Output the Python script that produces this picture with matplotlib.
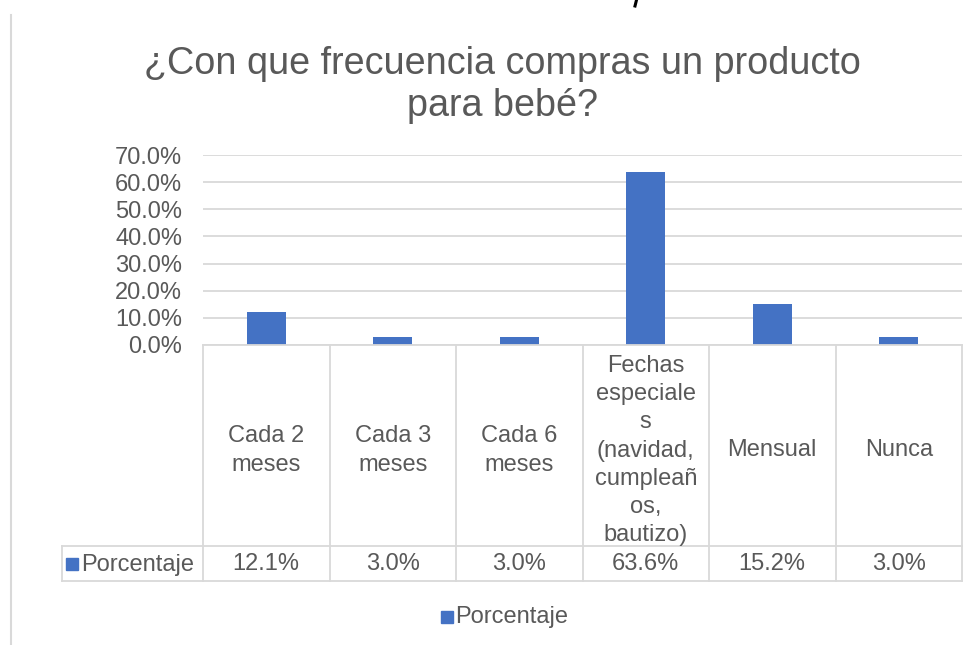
import matplotlib
matplotlib.use("Agg")
import matplotlib.pyplot as plt
from matplotlib.lines import Line2D
from matplotlib.patches import Rectangle
from matplotlib.ticker import FuncFormatter

categories = ["Cada 2\nmeses", "Cada 3\nmeses", "Cada 6\nmeses",
              "Fechas\nespeciale\ns\n(navidad,\ncumpleañ\nos,\nbautizo)",
              "Mensual", "Nunca"]
values = [12.1, 3.0, 3.0, 63.6, 15.2, 3.0]
series_name = "Porcentaje"
title = "¿Con que frecuencia compras un producto\npara bebé?"

plt.rcParams['font.family'] = ['Liberation Sans', 'DejaVu Sans']
W, H = 976, 645
fig = plt.figure(figsize=(W / 100, H / 100), dpi=100)
fig.patch.set_facecolor("white")

BLUE = "#4472C4"
GRID = "#D9D9D9"
TXT = "#595959"
FS = 17

# plot area in pixels
x0, x1 = 203, 962
y_top, y_zero = 155, 345
ax = fig.add_axes([x0 / W, 1 - y_zero / H, (x1 - x0) / W, (y_zero - y_top) / H])
n = len(values)
ax.bar(range(n), values, width=0.31, color=BLUE, zorder=3)
ax.set_xlim(-0.5, n - 0.5)
ax.set_ylim(0, 70)
ax.set_yticks(range(0, 71, 10))
ax.yaxis.set_major_formatter(FuncFormatter(lambda v, p: f"{v:.1f}%"))
ax.tick_params(axis="y", length=0, labelsize=FS, labelcolor=TXT, pad=15)
ax.tick_params(axis="x", length=0, labelbottom=False)
ax.grid(axis="y", color=GRID, linewidth=1.3, zorder=0)
for s in ax.spines.values():
    s.set_visible(False)

def fy(py):  # pixel y -> figure coords
    return 1 - py / H

def fx(px):
    return px / W

col_w = (x1 - x0) / n
row1_bot = 546
row2_bot = 581
label_left = 62
lw = 1.3
for (xa, xb, yy) in [(x0, x1, y_zero), (label_left, x1, row1_bot), (label_left, x1, row2_bot)]:
    fig.add_artist(Line2D([fx(xa), fx(xb)], [fy(yy), fy(yy)], color=GRID, lw=lw))
for i in range(n + 1):
    xx = x0 + i * col_w
    fig.add_artist(Line2D([fx(xx), fx(xx)], [fy(y_zero), fy(row2_bot)], color=GRID, lw=lw))
fig.add_artist(Line2D([fx(label_left), fx(label_left)], [fy(row1_bot), fy(row2_bot)], color=GRID, lw=lw))

for i, (c, v) in enumerate(zip(categories, values)):
    cx = x0 + (i + 0.5) * col_w
    fig.text(fx(cx), fy((y_zero + row1_bot) / 2 + 5), c, ha="center", va="center",
             fontsize=FS, color=TXT, linespacing=1.36)
    fig.text(fx(cx), fy((row1_bot + row2_bot) / 2 + 1), f"{v:.1f}%", ha="center", va="center",
             fontsize=FS, color=TXT)

# row header with key
fig.add_artist(Rectangle((fx(66), fy(570)), 12 / W, 12 / H, color=BLUE))
fig.text(fx(81), fy((row1_bot + row2_bot) / 2 + 1), series_name, ha="left", va="center",
         fontsize=FS, color=TXT)

# legend
fig.add_artist(Rectangle((fx(441), fy(623)), 12 / W, 12 / H, color=BLUE))
fig.text(fx(455), fy(617), series_name, ha="left", va="center", fontsize=FS, color=TXT)

# title
fig.text(fx(502), fy(85), title, ha="center", va="center", fontsize=27.2, color=TXT,
         linespacing=1.24)

# left border of chart area
fig.add_artist(Line2D([fx(11), fx(11)], [fy(15), fy(645)], color=GRID, lw=1.5))

# stray mark at top (cut-off glyph)
fig.add_artist(Line2D([fx(636.5), fx(635)], [fy(0), fy(6)], color="black", lw=2.2))

fig.savefig("out.png", dpi=100, facecolor="white")
